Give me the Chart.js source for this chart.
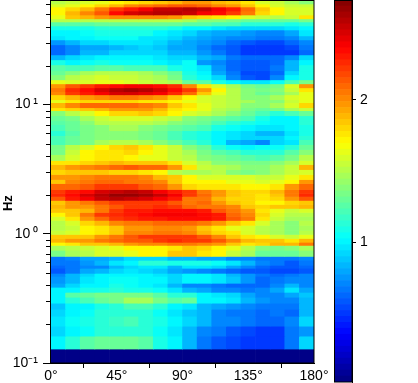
<!DOCTYPE html>
<html><head><meta charset="utf-8">
<style>html,body{margin:0;padding:0;background:#fff;overflow:hidden}
#w{position:relative;width:418px;height:383px}
canvas{position:absolute;top:0}</style>
<script src="https://cdn.jsdelivr.net/npm/chart.js@4"></script>
</head><body><div id="w"><canvas id="m" width="418" height="383" style="left:0"></canvas><canvas id="c" width="84" height="383" style="left:334px"></canvas></div>
<script>
const angleCentres=[5,15,25,35,45,55,65,75,85,95,105,115,125,135,145,155,165,175];
const xTicks=[0,45,90,135,180];
const yMajorHz=[0.1,1,10];
const yMinorHz=[0.2,0.3,0.4,0.5,0.6,0.7,0.8,0.9,2,3,4,5,6,7,8,9,20,30,40,50,60];
const rowEdgesLogHz=[1.810,1.779,1.756,1.725,1.694,1.664,1.640,1.609,1.578,1.532,1.501,1.463,1.424,1.385,1.347,1.308,1.262,1.231,1.192,1.161,1.130,1.100,1.076,1.038,1.015,.976,.953,.914,.875,.845,.798,.760,.729,.690,.652,.613,.567,.536,.497,.459,.420,.389,.343,.312,.289,.258,.227,.196,.165,.134,.103,.065,.026,-.005,-.036,-.066,-.090,-.128,-.175,-.205,-.244,-.267,-.306,-.329,-.383,-.414,-.453,-.491,-.537,-.584,-.638,-.715,-.792,-.892,-1.0];
const heat=[
[1.5,1.55,1.6,1.65,1.7,1.75,1.8,1.85,1.9,1.95,1.95,1.9,1.85,1.75,1.6,1.55,1.45,1.4],
[1.6,1.65,1.7,1.8,1.9,2.0,2.05,2.1,2.15,2.15,2.1,2.0,1.95,1.85,1.7,1.6,1.55,1.55],
[1.7,1.8,1.9,2.05,2.2,2.3,2.4,2.5,2.5,2.55,2.5,2.4,2.3,2.1,1.85,1.7,1.6,1.6],
[1.7,1.9,2.0,2.15,2.35,2.45,2.5,2.55,2.55,2.5,2.4,2.35,2.2,2.05,1.8,1.7,1.6,1.6],
[1.65,1.85,1.9,1.95,2.0,2.0,2.0,2.0,1.95,1.85,1.8,1.75,1.7,1.6,1.55,1.5,1.55,1.75],
[1.5,1.5,1.5,1.5,1.5,1.5,1.5,1.5,1.5,1.45,1.4,1.4,1.35,1.3,1.3,1.3,1.3,1.35],
[1.25,1.25,1.25,1.3,1.3,1.3,1.3,1.3,1.3,1.25,1.25,1.2,1.2,1.15,1.15,1.15,1.1,1.15],
[1.1,1.1,1.1,1.15,1.15,1.15,1.15,1.15,1.1,1.0,1.0,.95,.9,.9,.9,.9,.95,1.0],
[1.0,1.02,1.05,1.1,1.1,1.1,1.08,1.02,.98,.9,.85,.8,.78,.75,.72,.72,.8,.95],
[.95,1.0,1.0,1.05,1.05,1.05,.98,.95,.9,.85,.8,.75,.72,.7,.65,.65,.7,.85],
[.75,.85,.9,.9,.95,.95,.95,.9,.82,.8,.75,.7,.64,.6,.56,.56,.62,.72],
[.62,.72,.78,.78,.85,.88,.9,.88,.8,.78,.72,.64,.58,.52,.5,.5,.55,.65],
[.62,.72,.82,.85,.9,.92,.92,.9,.85,.82,.75,.68,.58,.52,.5,.5,.52,.62],
[.85,.9,.95,1.0,1.0,1.0,1.0,.95,.9,.92,.85,.78,.68,.62,.62,.62,.72,.9],
[1.1,1.02,1.05,1.08,1.05,1.05,1.05,1.02,.95,1.05,.75,.7,.62,.58,.58,.62,.85,1.0],
[1.25,1.2,1.2,1.25,1.25,1.2,1.2,1.2,1.1,1.05,.95,.75,.64,.58,.58,.66,.85,1.1],
[1.3,1.4,1.45,1.5,1.5,1.5,1.45,1.4,1.3,1.1,1.0,.8,.65,.56,.55,.64,.9,1.1],
[1.4,1.5,1.55,1.6,1.55,1.55,1.5,1.45,1.35,1.15,1.05,.9,.72,.58,.56,.72,1.0,1.1],
[1.65,1.6,1.6,1.65,1.65,1.6,1.55,1.5,1.45,1.3,1.25,1.1,1.0,.95,.95,1.05,1.2,1.35],
[1.95,2.15,2.2,2.3,2.35,2.4,2.4,2.35,2.25,2.0,1.75,1.6,1.45,1.35,1.3,1.35,1.6,1.95],
[2.05,2.25,2.35,2.45,2.55,2.6,2.55,2.45,2.35,2.2,1.95,1.7,1.5,1.4,1.35,1.4,1.55,1.75],
[2.0,2.2,2.3,2.4,2.45,2.45,2.42,2.38,2.25,2.1,1.85,1.65,1.5,1.4,1.3,1.35,1.45,1.65],
[1.8,1.9,1.95,2.0,2.05,2.05,2.0,1.95,1.85,1.7,1.6,1.55,1.5,1.4,1.4,1.45,1.6,1.65],
[1.65,1.75,1.8,1.8,1.8,1.8,1.75,1.75,1.7,1.65,1.6,1.55,1.5,1.45,1.4,1.4,1.55,1.65],
[1.9,2.0,2.1,2.1,2.1,2.1,2.05,2.0,1.85,1.75,1.65,1.55,1.5,1.4,1.4,1.45,1.6,1.8],
[1.75,1.8,1.85,1.9,1.95,1.95,1.95,1.9,1.75,1.7,1.65,1.5,1.45,1.35,1.3,1.35,1.45,1.55],
[1.4,1.5,1.6,1.7,1.8,1.8,1.85,1.8,1.7,1.6,1.55,1.45,1.4,1.3,1.2,1.15,1.2,1.3],
[1.3,1.35,1.45,1.55,1.6,1.6,1.6,1.55,1.5,1.4,1.35,1.3,1.25,1.2,1.1,1.02,1.02,1.15],
[1.25,1.3,1.4,1.5,1.5,1.5,1.5,1.45,1.4,1.35,1.3,1.2,1.15,1.1,1.05,1.02,1.02,1.12],
[1.2,1.3,1.35,1.4,1.45,1.45,1.4,1.35,1.3,1.25,1.2,1.1,1.05,1.0,.95,.98,1.02,1.1],
[1.15,1.25,1.35,1.4,1.4,1.4,1.35,1.3,1.2,1.15,1.1,1.0,.95,.9,.85,.85,.95,1.1],
[1.2,1.3,1.35,1.4,1.4,1.4,1.35,1.3,1.22,1.15,1.1,1.02,.98,.92,.9,.92,1.0,1.15],
[1.2,1.3,1.35,1.45,1.5,1.5,1.45,1.4,1.3,1.2,1.15,1.0,.85,.78,.72,.9,.98,1.2],
[1.35,1.5,1.6,1.7,1.8,1.85,1.75,1.65,1.55,1.4,1.3,1.15,1.05,1.0,1.05,1.05,1.15,1.3],
[1.35,1.55,1.7,1.75,1.75,1.8,1.7,1.65,1.55,1.45,1.35,1.25,1.2,1.15,1.12,1.15,1.25,1.4],
[1.45,1.6,1.7,1.75,1.75,1.7,1.65,1.65,1.55,1.5,1.4,1.35,1.3,1.25,1.2,1.25,1.35,1.5],
[1.75,1.75,1.8,1.85,1.9,1.85,1.85,1.85,1.75,1.6,1.5,1.4,1.4,1.35,1.35,1.4,1.45,1.6],
[1.9,1.95,2.0,2.05,2.1,2.15,2.1,2.1,1.95,1.75,1.55,1.5,1.45,1.4,1.4,1.45,1.55,1.9],
[1.8,1.85,1.85,1.85,1.8,1.8,1.75,1.7,1.5,1.45,1.45,1.5,1.4,1.35,1.4,1.45,1.55,1.6],
[1.95,1.95,2.0,2.05,2.05,2.05,2.0,1.9,1.85,1.7,1.6,1.6,1.6,1.6,1.55,1.55,1.65,1.75],
[1.85,2.0,2.05,2.1,2.1,2.05,2.05,2.0,1.85,1.7,1.7,1.7,1.65,1.65,1.6,1.65,1.7,1.95],
[2.1,2.1,2.15,2.2,2.2,2.2,2.15,2.1,1.95,1.8,1.75,1.75,1.75,1.7,1.7,1.75,1.95,2.1],
[2.2,2.3,2.35,2.45,2.5,2.55,2.5,2.4,2.3,2.2,2.05,1.95,1.85,1.8,1.8,1.9,2.05,2.2],
[2.25,2.35,2.45,2.55,2.65,2.65,2.6,2.5,2.4,2.2,2.1,1.95,1.85,1.8,1.75,1.85,2.05,2.25],
[2.15,2.3,2.4,2.5,2.55,2.5,2.45,2.4,2.3,2.05,2.05,1.9,1.8,1.8,1.75,1.8,1.95,2.15],
[1.85,1.95,2.05,2.15,2.2,2.2,2.2,2.2,2.15,2.05,2.1,1.95,1.85,1.8,1.7,1.7,1.8,1.85],
[1.9,1.95,1.95,2.05,2.15,2.2,2.2,2.25,2.2,2.1,2.05,2.05,2.0,1.85,1.8,1.85,1.85,1.9],
[1.85,1.85,1.9,2.05,2.2,2.3,2.3,2.35,2.35,2.35,2.3,2.15,2.05,1.95,1.75,1.65,1.55,1.6],
[1.7,1.85,2.05,2.2,2.25,2.3,2.35,2.4,2.4,2.4,2.35,2.3,2.1,2.0,1.8,1.6,1.5,1.5],
[1.6,1.75,1.95,2.1,2.2,2.25,2.3,2.3,2.35,2.35,2.35,2.3,2.15,2.05,1.75,1.55,1.45,1.45],
[1.5,1.6,1.8,1.9,2.0,2.05,2.05,2.1,2.1,2.1,2.05,1.95,1.85,1.75,1.6,1.45,1.4,1.5],
[1.5,1.55,1.7,1.75,1.85,1.95,1.95,2.0,2.0,1.95,1.85,1.75,1.65,1.6,1.5,1.45,1.4,1.45],
[1.55,1.6,1.7,1.75,1.85,2.0,2.0,2.05,2.05,2.0,1.9,1.8,1.75,1.6,1.5,1.45,1.4,1.5],
[1.85,1.85,1.85,1.95,2.05,2.15,2.2,2.2,2.2,2.2,2.15,2.0,1.85,1.75,1.7,1.6,1.55,1.65],
[1.9,1.95,1.95,2.05,2.1,2.15,2.15,2.2,2.25,2.2,2.2,2.15,2.0,1.9,1.85,1.85,1.75,1.9],
[1.7,1.75,1.85,1.85,1.9,1.95,2.0,2.0,2.05,2.05,2.0,1.95,1.85,1.75,1.8,1.9,1.9,2.05],
[1.45,1.5,1.55,1.6,1.65,1.7,1.7,1.7,1.75,1.85,1.8,1.7,1.65,1.5,1.4,1.35,1.4,1.45],
[1.35,1.45,1.5,1.6,1.6,1.65,1.7,1.7,1.85,1.85,1.75,1.7,1.55,1.45,1.3,1.3,1.3,1.4],
[.68,.72,.78,.8,.85,.9,.92,.92,.85,.82,.78,.78,.72,.72,.68,.65,.65,.72],
[.65,.68,.75,.85,.95,1.0,1.15,1.15,1.1,1.1,1.1,1.05,.95,.85,.7,.65,.6,.68],
[.62,.68,.72,.7,.85,.9,.95,.95,.85,.95,.95,.9,.78,.72,.62,.58,.6,.62],
[.58,.68,.78,.82,.92,.95,.92,.88,.78,.75,.72,.68,.62,.6,.58,.55,.55,.6],
[.72,.82,.9,1.0,1.02,1.02,1.02,.95,.9,1.0,1.02,.95,.85,.75,.68,.64,.66,.72],
[.75,.85,.95,1.0,1.05,1.05,1.02,1.0,.9,1.0,1.0,.98,.88,.75,.64,.66,.7,.72],
[.78,.92,1.02,1.02,1.08,1.05,1.0,.95,.82,.72,.72,.66,.62,.62,.64,.72,.82,.72],
[1.0,1.02,1.1,1.1,1.15,1.1,1.1,1.05,.95,.85,.78,.7,.72,.68,.72,.8,.98,.8],
[1.02,1.25,1.3,1.35,1.35,1.35,1.35,1.25,1.15,1.15,1.0,.95,.9,.8,.72,.72,.78,.88],
[1.0,1.15,1.2,1.3,1.35,1.45,1.45,1.35,1.25,1.3,1.02,1.0,.98,.85,.75,.72,.7,.85],
[.88,1.0,1.02,1.1,1.15,1.2,1.2,1.15,1.0,.95,.85,.78,.75,.7,.65,.65,.65,.85],
[.9,1.0,1.05,1.12,1.12,1.12,1.12,1.05,.98,.88,.82,.7,.68,.65,.62,.65,.62,.85],
[.98,1.05,1.1,1.15,1.18,1.2,1.15,1.1,1.0,.9,.85,.72,.7,.65,.62,.62,.72,.9],
[.9,1.02,1.05,1.12,1.12,1.15,1.12,1.05,.95,.82,.72,.65,.58,.54,.5,.52,.65,.75],
[1.02,1.15,1.25,1.3,1.3,1.3,1.25,1.1,1.0,.82,.65,.6,.54,.52,.5,.5,.65,.9],
[.02,.02,.02,.02,.02,.02,.02,.02,.02,.02,.02,.02,.02,.02,.02,.02,.02,.02]
];
const colourMin=0.02, colourMax=2.70, colourLevels=64;
const colourTicks=[1,2];
function jet(i){
  const t=(i+0.5)/colourLevels;
  const c=x=>Math.round(255*Math.max(0,Math.min(1,1.5-Math.abs(4*t-x))));
  return `rgb(${c(3)},${c(2)},${c(1)})`;
}
function colourOf(v){
  let i=Math.floor((v-colourMin)/(colourMax-colourMin)*colourLevels);
  return jet(Math.max(0,Math.min(colourLevels-1,i)));
}
const frame={id:'frame',afterDatasetsDraw(ch){
  const a=ch.chartArea,g=ch.ctx;
  g.save();g.strokeStyle='#000';g.lineWidth=1;
  g.strokeRect(a.left-0.5,a.top+0.5,a.right-a.left+0.5,a.bottom-a.top-0.5);
  g.restore();
}};
const minorTicks={id:'minorTicks',afterDraw(ch){
  const s=ch.scales.y,g=ch.ctx;
  g.save();g.strokeStyle='#000';g.lineWidth=1;g.beginPath();
  yMinorHz.forEach(h=>{const p=Math.round(s.getPixelForValue(h))+0.5;g.moveTo(s.right-5,p);g.lineTo(s.right,p);});
  g.stroke();g.restore();
}};
const font={family:'"Liberation Sans",Arial,sans-serif',size:14};
Chart.defaults.animation=false;
const datasets=heat.map((row,r)=>({
  data:row.map((v,k)=>({x:angleCentres[k],y:[Math.pow(10,rowEdgesLogHz[r+1]),Math.pow(10,rowEdgesLogHz[r])]})),
  backgroundColor:row.map(colourOf),borderWidth:0,barPercentage:1,categoryPercentage:1,grouped:false
}));
new Chart(document.getElementById('m'),{type:'bar',data:{datasets},plugins:[frame,minorTicks],
 options:{responsive:false,devicePixelRatio:1,layout:{padding:{left:0,top:0,right:104,bottom:0}},
  plugins:{legend:{display:false},tooltip:{enabled:false}},
  scales:{
   x:{type:'linear',min:0,max:180,offset:false,
      afterBuildTicks(s){s.ticks=xTicks.map(v=>({value:v}));},
      afterFit(s){s.height=20;},
      grid:{drawOnChartArea:false,tickLength:5,tickColor:'#000'},border:{color:'#000'},
      ticks:{color:'#000',font,padding:0,maxRotation:0,autoSkip:false,callback:v=>v+'°'}},
   y:{type:'logarithmic',min:0.1,max:Math.pow(10,1.81),bounds:'data',
      afterBuildTicks(s){s.ticks=yMajorHz.map(v=>({value:v}));},
      afterFit(s){s.width=51;s.paddingTop=0;s.paddingBottom=0;},
      title:{display:true,text:'Hz            ',color:'#000',padding:{top:1,bottom:0},font:{family:font.family,size:13,weight:'bold'}},
      grid:{drawOnChartArea:false,tickLength:8,tickColor:'#000'},border:{color:'#000'},
      ticks:{color:'#000',font,padding:5,autoSkip:false,maxRotation:0,
        callback:v=>v===10?'10\u2009¹':v===1?'10\u2009⁰':'10⁻¹'}}
  }}});
const levels=[...Array(colourLevels).keys()];
new Chart(document.getElementById('c'),{type:'bar',
 data:{labels:[''],datasets:levels.map(i=>({
   data:[[colourMin+(colourMax-colourMin)*i/colourLevels,colourMin+(colourMax-colourMin)*(i+1)/colourLevels]],
   backgroundColor:jet(i),borderWidth:0,barPercentage:1,categoryPercentage:1,grouped:false}))},
 plugins:[frame],
 options:{responsive:false,devicePixelRatio:1,layout:{padding:{left:1,bottom:1,top:0,right:0}},
  plugins:{legend:{display:false},tooltip:{enabled:false}},
  scales:{
   x:{display:false},
   y:{position:'right',min:colourMin,max:colourMax,bounds:'data',
      afterBuildTicks(s){s.ticks=colourTicks.map(v=>({value:v}));},
      afterFit(s){s.width=66;s.paddingTop=0;s.paddingBottom=0;},
      grid:{drawOnChartArea:false,tickLength:4,tickColor:'#000'},border:{color:'#000'},
      ticks:{color:'#000',font,padding:4,autoSkip:false,callback:v=>String(v)}}
  }}});
</script></body></html>
